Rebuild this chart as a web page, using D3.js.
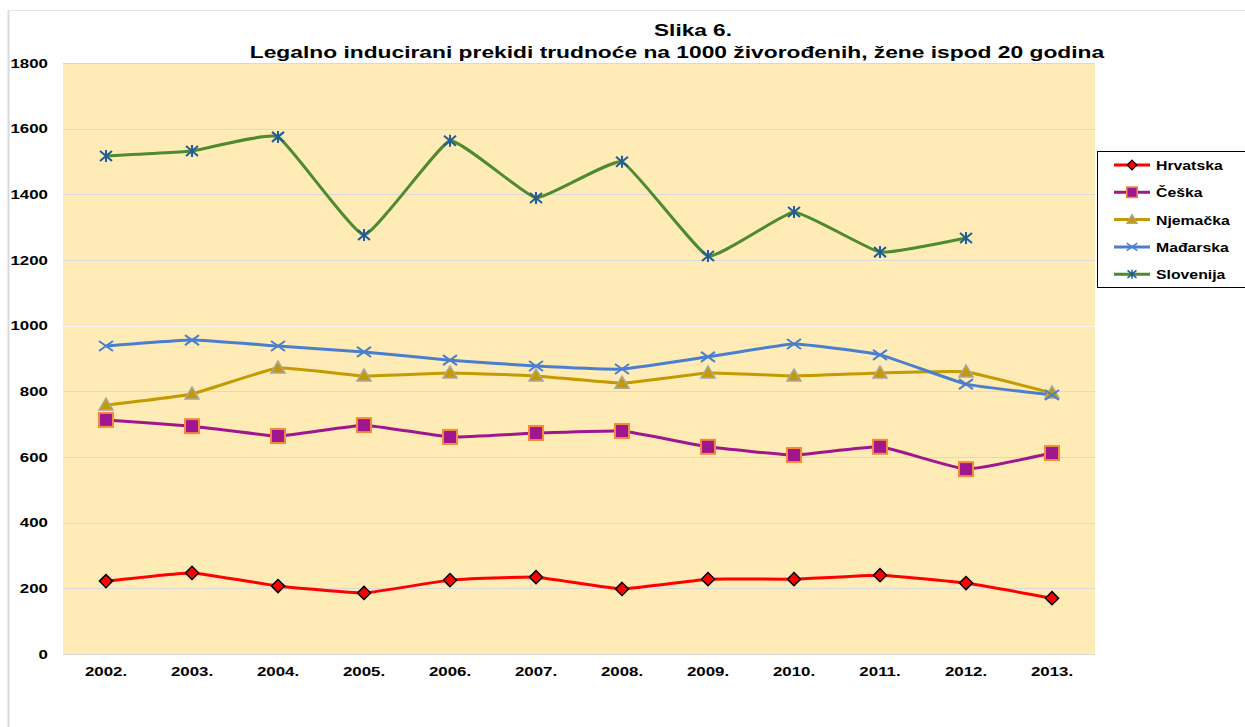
<!DOCTYPE html>
<html>
<head>
<meta charset="utf-8">
<script src="https://cdn.jsdelivr.net/npm/d3@7"></script>
<style>
  body { margin: 0; background: #fff; }
  text { font-family: "Liberation Sans", Arial, sans-serif; font-weight: bold; fill: #000; }
</style>
</head>
<body>
<div id="main"></div>
<script>
// **** Data ****
var years = ["2002.", "2003.", "2004.", "2005.", "2006.", "2007.", "2008.", "2009.", "2010.", "2011.", "2012.", "2013."];
var hrvatska = [222, 247, 207, 186, 225, 234, 198, 228, 228, 240, 216, 170];
var ceska = [713, 694, 664, 697, 661, 673, 679, 631, 606, 631, 563, 612];
var njemacka = [758, 792, 871, 847, 856, 847, 825, 856, 847, 856, 859, 795];
var madarska = [938, 956, 938, 920, 895, 877, 868, 905, 944, 911, 822, 789];
var slovenija = [1517, 1532, 1575, 1276, 1563, 1389, 1499, 1212, 1346, 1224, 1267, null];
var yTicks = [0, 200, 400, 600, 800, 1000, 1200, 1400, 1600, 1800];

var series = [
  {name: "Hrvatska", values: hrvatska, line: "#ff0000", marker: "diamond", fill: "#ff0000", stroke: "#000000"},
  {name: "Češka", values: ceska, line: "#a0168e", marker: "square", fill: "#a0168e", stroke: "#f58a3c"},
  {name: "Njemačka", values: njemacka, line: "#c49a00", marker: "triangle", fill: "#c49a00", stroke: "#a6a6a6"},
  {name: "Mađarska", values: madarska, line: "#4a7fd0", marker: "x", fill: "none", stroke: "#4a7fd0"},
  {name: "Slovenija", values: slovenija, line: "#4e8a2e", marker: "star", fill: "none", stroke: "#1f5c99"}
];

// **** Dimensions ****
var W = 1245, H = 727;
var plot = {left: 63, right: 1095, top: 63, bottom: 654};

var svg = d3.select("#main").append("svg")
  .attr("width", W)
  .attr("height", H);

// the original picture is a bit wider than normal, so stretch the text
function stretch(sel, k) {
  sel.each(function() {
    var len = this.getComputedTextLength();
    d3.select(this).attr("textLength", len * k).attr("lengthAdjust", "spacingAndGlyphs");
  });
}

// outer frame lines
svg.append("line").attr("x1", 8.5).attr("x2", 8.5).attr("y1", 10).attr("y2", H)
  .style("stroke", "#d9d9d9").style("stroke-width", 2);
svg.append("line").attr("x1", 8).attr("x2", W).attr("y1", 10.5).attr("y2", 10.5)
  .style("stroke", "#e6e6e6").style("stroke-width", 1);

var x = d3.scaleBand().domain(years).range([plot.left, plot.right]);
var y = d3.scaleLinear().domain([0, 1800]).range([plot.bottom, plot.top]);

// plot background
svg.append("rect")
  .attr("x", plot.left).attr("y", plot.top)
  .attr("width", plot.right - plot.left).attr("height", plot.bottom - plot.top)
  .style("fill", "#ffebb5");

// gridlines
svg.append("g").selectAll("line").data(yTicks).enter().append("line")
  .attr("x1", plot.left).attr("x2", plot.right)
  .attr("y1", function(d){ return Math.round(y(d)) + 0.5; })
  .attr("y2", function(d){ return Math.round(y(d)) + 0.5; })
  .style("stroke", function(d){ return d == 1000 ? "#f6f6f6" : "#d9d9d9"; })
  .style("stroke-width", 1);

// y axis
var yAxis = svg.append("g")
  .attr("transform", "translate(" + plot.left + ",0)")
  .call(d3.axisLeft(y).tickValues(yTicks).tickFormat(d3.format("d")).tickSize(0).tickPadding(15));
yAxis.select(".domain").remove();
yAxis.selectAll("text").style("font-size", "13.5px").style("font-family", "Liberation Sans, Arial, sans-serif").style("font-weight", "bold");
stretch(yAxis.selectAll("text"), 1.25);

// x axis
var xAxis = svg.append("g")
  .attr("transform", "translate(0," + plot.bottom + ")")
  .call(d3.axisBottom(x).tickSize(0).tickPadding(12));
xAxis.select(".domain").remove();
xAxis.selectAll("text").style("font-size", "13.5px").style("font-family", "Liberation Sans, Arial, sans-serif").style("font-weight", "bold");
stretch(xAxis.selectAll("text"), 1.25);

// title
var t1 = svg.append("text")
  .attr("x", 693).attr("y", 36)
  .attr("text-anchor", "middle")
  .style("font-size", "17px")
  .text("Slika 6.");
var t2 = svg.append("text")
  .attr("x", 677).attr("y", 58)
  .attr("text-anchor", "middle")
  .style("font-size", "17px")
  .text("Legalno inducirani prekidi trudnoće na 1000 živorođenih, žene ispod 20 godina");
stretch(t1, 1.33);
stretch(t2, 1.34);

// **** Marker drawing ****
function drawMarker(g, type, s) {
  if (type == "diamond") {
    g.append("path").attr("d", d3.symbol(d3.symbolDiamond2, 110)())
      .style("fill", s.fill).style("stroke", s.stroke).style("stroke-width", 1.5);
  } else if (type == "square") {
    g.append("rect").attr("x", -7).attr("y", -7).attr("width", 14).attr("height", 14)
      .style("fill", s.fill).style("stroke", s.stroke).style("stroke-width", 2);
  } else if (type == "triangle") {
    g.append("path").attr("d", "M0,-7L7,5L-7,5Z")
      .style("fill", s.fill).style("stroke", s.stroke).style("stroke-width", 1.5);
  } else if (type == "x") {
    g.append("path").attr("d", "M-7,-5L7,5M-7,5L7,-5")
      .style("fill", "none").style("stroke", s.stroke).style("stroke-width", 2);
  } else if (type == "star") {
    g.append("path").attr("d", "M-6,-5L6,5M-6,5L6,-5M0,-6L0,6")
      .style("fill", "none").style("stroke", s.stroke).style("stroke-width", 2);
  }
}

var line = d3.line()
  .defined(function(d){ return d != null; })
  .x(function(d, i){ return x(years[i]) + x.bandwidth() / 2; })
  .y(function(d){ return y(d); })
  .curve(d3.curveCardinal.tension(0.65));

series.forEach(function(s) {
  svg.append("path")
    .datum(s.values)
    .attr("d", line)
    .style("fill", "none")
    .style("stroke", s.line)
    .style("stroke-width", 3);
});

series.forEach(function(s) {
  svg.append("g").selectAll("g")
    .data(s.values.map(function(v, i){ return {v: v, i: i}; }).filter(function(d){ return d.v != null; }))
    .enter().append("g")
    .attr("transform", function(d){ return "translate(" + (x(years[d.i]) + x.bandwidth() / 2) + "," + y(d.v) + ")"; })
    .each(function(){ drawMarker(d3.select(this), s.marker, s); });
});

// **** Legend ****
var legend = svg.append("g");
legend.append("rect")
  .attr("x", 1097.5).attr("y", 151.5)
  .attr("width", 160).attr("height", 136)
  .style("fill", "#fff").style("stroke", "#000").style("stroke-width", 1);

series.forEach(function(s, i) {
  var ly = 165 + i * 27.3;
  legend.append("line")
    .attr("x1", 1114).attr("x2", 1150).attr("y1", ly).attr("y2", ly)
    .style("stroke", s.line).style("stroke-width", 3);
  var g = legend.append("g").attr("transform", "translate(1132," + ly + ") scale(0.75)");
  drawMarker(g, s.marker, s);
  var lt = legend.append("text")
    .attr("x", 1156).attr("y", ly + 5)
    .style("font-size", "13.5px")
    .text(s.name);
  stretch(lt, 1.17);
});
</script>
</body>
</html>
